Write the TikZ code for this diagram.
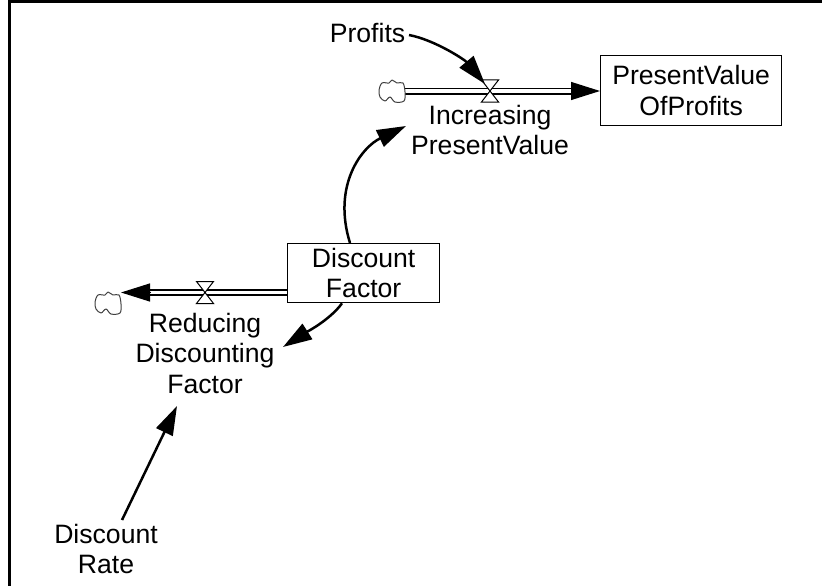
\documentclass[tikz,border=0pt]{standalone}
\usepackage{fontspec}
\setmainfont{Liberation Sans}
\usetikzlibrary{arrows.meta}
\tikzset{
  lbl/.style={inner sep=0pt,align=center,font=\fontsize{26.6}{30.5}\selectfont},
  stock/.style={draw=black,line width=1.3pt,fill=white,inner sep=0pt,align=center,font=\fontsize{26.6}{30.5}\selectfont,anchor=north west},
  pipe/.style={double=white,double distance=3.8pt,line width=1.6pt,draw=black},
  head/.style={-{Triangle[length=29pt,width=18pt]},line width=1.2pt},
  link/.style={-{Triangle[length=29pt,width=18pt]},line width=2.5pt},
  bow/.style={draw=black,line width=1pt,fill=white},
  cloudline/.style={draw=black!75,line width=1pt,fill=white,line join=round}
}
\newcommand{\valveshape}[1]{\draw[bow] ([shift={(-8.5,-11)}]#1) -- ([shift={(8.5,-11)}]#1) -- ([shift={(-8.5,11)}]#1) -- ([shift={(8.5,11)}]#1) -- cycle;}
\newcommand{\cloudshape}[1]{\draw[cloudline,shift={(#1)}] plot[smooth cycle,tension=0.55] coordinates {(-13,-1)(-10,-8)(-3,-8)(0,-11)(5,-8)(11,-8)(13,1)(12,10)(3,11)(-2,6)(-7,10)(-12,6)};}
\begin{document}
\begin{tikzpicture}[x=1pt,y=-1pt]
\useasboundingbox (0,0) rectangle (822,586);
\draw[line width=3pt] (822,1.5) -- (9,1.5) -- (9,586);
\coordinate (cloudA) at (392,91);
\coordinate (cloudB) at (108,303);
\coordinate (valveA) at (490,91);
\coordinate (valveB) at (205,292.5);
\node[stock,minimum width=181pt,minimum height=70pt] (pv) at (600,55) {PresentValue\\OfProfits};
\node[stock,minimum width=152pt,minimum height=59pt] (df) at (287,243) {Discount\\Factor};
\node[lbl] (profits) at (367.5,32.5) {Profits};
\node[lbl] (incr) at (490,130) {Increasing\\PresentValue};
\node[lbl] (reduc) at (205,353) {Reducing\\Discounting\\Factor};
\node[lbl] (rate) at (106,549) {Discount\\Rate};
% flows
\draw[pipe] ([xshift=13pt]cloudA) -- ([xshift=-25pt]pv.west |- valveA);
\draw[head] ([xshift=-29pt]pv.west |- valveA) -- (pv.west |- valveA);
\draw[pipe] (df.west |- valveB) -- ([xshift=40pt]cloudB |- valveB);
\draw[head] ([xshift=43pt]cloudB |- valveB) -- ([xshift=13pt]cloudB |- valveB);
\valveshape{valveA}
\valveshape{valveB}
\cloudshape{cloudA}
\cloudshape{cloudB}
% links
\draw[link] ([shift={(41.5,2.5)}]profits.center) .. controls +(26,5) and (465,60) .. ([shift={(-5,-7)}]valveA);
\draw[link] ([xshift=63pt]df.north west) .. controls (332,185) and (362,147) .. ([shift={(-84,-4)}]incr.center);
\draw[link] ([xshift=55pt]df.south west) .. controls (330,320) and (305,333) .. ([shift={(78,-6)}]reduc.center);
\draw[link] ([shift={(16,-29)}]rate.center) -- ([shift={(-28,53)}]reduc.center);
\end{tikzpicture}
\end{document}
